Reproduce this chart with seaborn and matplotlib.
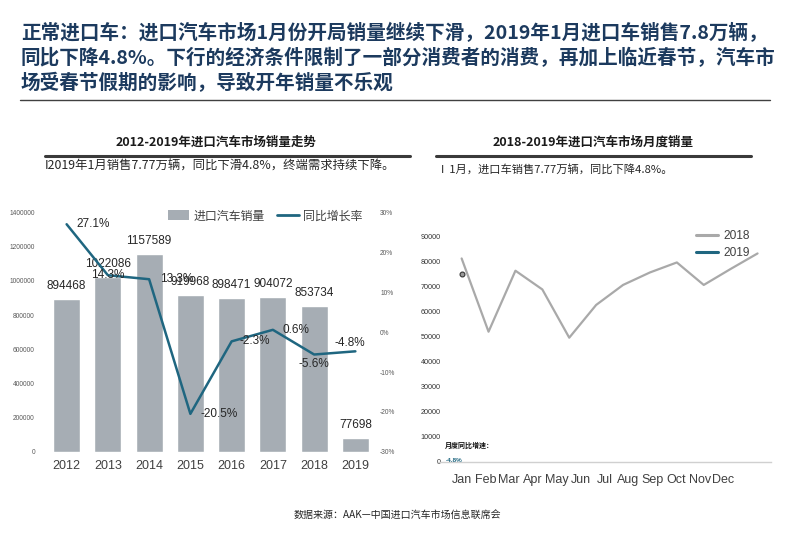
import numpy as np
import pandas as pd
import matplotlib
matplotlib.use("Agg")
import matplotlib.pyplot as plt
import seaborn as sns
from matplotlib.lines import Line2D
from matplotlib.patches import Patch

# 2012-2019 annual import sales and YoY growth
years = ["2012", "2013", "2014", "2015", "2016", "2017", "2018", "2019"]
annual_sales = [894468, 1022086, 1157589, 919968, 898471, 904072, 853734, 77698]
yoy_growth = [27.1, 14.3, 13.3, -20.5, -2.3, 0.6, -5.6, -4.8]

# monthly sales 2018 vs 2019 (only Jan for 2019)
months = ["Jan", "Feb", "Mar", "Apr", "May", "Jun",
          "Jul", "Aug", "Sep", "Oct", "Nov", "Dec"]
sales_2018 = [81300, 52000, 76400, 68900, 49600, 62700,
              70700, 75700, 79700, 70700, 77100, 83300]
sales_2019 = [75000]

BAR_COLOR = "#A6ADB4"
LINE_COLOR = "#1F6680"
GREY_LINE = "#A9A9A9"
NAVY = "#1C3A5E"
TEXT = "#404040"

sns.set_theme(style="white")
plt.rcParams["font.family"] = ["Liberation Sans", "Noto Sans CJK SC", "DejaVu Sans"]
CJK = ["Noto Sans CJK SC", "DejaVu Sans"]

W, H = 800, 553
fig = plt.figure(figsize=(W / 100, H / 100), dpi=100)


def fx(px):
    return px / W


def fy(py):
    return 1 - py / H


# ---- title block ----
title_lines = [
    "正常进口车：进口汽车市场1月份开局销量继续下滑，2019年1月进口车销售7.8万辆，",
    "同比下降4.8%。下行的经济条件限制了一部分消费者的消费，再加上临近春节，汽车市",
    "场受春节假期的影响，导致开年销量不乐观",
]
for i, line in enumerate(title_lines):
    fig.text(fx(21), fy(33 + 25 * i), line, family=CJK, fontsize=14.1,
             fontweight="bold", color=NAVY, va="center", ha="left")
fig.add_artist(Line2D([fx(20), fx(770)], [fy(100), fy(100)], color="#404040", lw=1))

# ---- panel headers ----
fig.text(fx(216), fy(142), "2012-2019年进口汽车市场销量走势", family=CJK,
         fontsize=9.0, fontweight="bold", color="#1a1a1a", ha="center", va="center")
fig.text(fx(593), fy(142), "2018-2019年进口汽车市场月度销量", family=CJK,
         fontsize=9.0, fontweight="bold", color="#1a1a1a", ha="center", va="center")
fig.add_artist(Line2D([fx(45), fx(410)], [fy(156), fy(156)], color="#3a3a3a", lw=2.2))
fig.add_artist(Line2D([fx(436), fx(751)], [fy(156), fy(156)], color="#3a3a3a", lw=2.2))
fig.text(fx(45), fy(166), "I2019年1月销售7.77万辆，同比下滑4.8%，终端需求持续下降。",
         family=CJK, fontsize=8.9, color="#262626", ha="left", va="center")
fig.text(fx(441), fy(169), "I  1月，进口车销售7.77万辆，同比下降4.8%。",
         family=CJK, fontsize=8.1, color="#262626", ha="left", va="center")

# ---- left chart: bars + growth line ----
ax1 = fig.add_axes([fx(46), fy(451.7), fx(376) - fx(46), fy(212.7) - fy(451.7)])
df_annual = pd.DataFrame({"year": years, "sales": annual_sales, "growth": yoy_growth})
sns.barplot(data=df_annual, x="year", y="sales", color=BAR_COLOR, width=0.65,
            saturation=1, ax=ax1)
ax1.set_ylim(0, 1400000)
ax1.set_yticks(np.arange(0, 1400001, 200000))
ax1.set_yticklabels([f"{int(v)}" for v in ax1.get_yticks()])
ax1.tick_params(axis="y", labelsize=4.8, colors="#595959", pad=8, length=0)
ax1.tick_params(axis="x", labelsize=9, colors=TEXT, pad=6, length=0)
ax1.set_xlabel("")
ax1.set_ylabel("")
for s in ax1.spines.values():
    s.set_visible(False)

for i, v in enumerate(annual_sales):
    ax1.annotate(str(v), (i, v), xytext=(0, 5), textcoords="offset points",
                 ha="center", va="bottom", fontsize=8.5, color="#262626")

ax2 = ax1.twinx()
sns.lineplot(x=np.arange(len(years)), y=yoy_growth, color=LINE_COLOR, linewidth=1.8, ax=ax2)
ax2.set_ylim(-30, 30)
ax2.set_yticks(np.arange(-30, 31, 10))
ax2.set_yticklabels([f"{int(v)}%" for v in ax2.get_yticks()])
ax2.tick_params(axis="y", labelsize=4.8, colors="#595959", pad=3, length=0)
for s in ax2.spines.values():
    s.set_visible(False)
ax1.set_xlim(-0.5, len(years) - 0.5)

# label placement per point: (dx, dy, ha) in points
growth_offsets = [(7, 0, "left"), (0, 0, "center"), (8, 0, "left"), (7, 0, "left"),
                  (6, 0, "left"), (7, 0, "left"), (0, -7, "center"), (-4, 6, "center")]
for i, (g, (dx, dy, ha)) in enumerate(zip(yoy_growth, growth_offsets)):
    ax2.annotate(f"{g}%", (i, g), xytext=(dx, dy), textcoords="offset points",
                 ha=ha, va="center", fontsize=8.5, color="#262626")

left_handles = [Patch(facecolor=BAR_COLOR, edgecolor="none"),
                Line2D([], [], color=LINE_COLOR, lw=2)]
fig.legend(left_handles, ["进口汽车销量", "同比增长率"], loc="center left",
           bbox_to_anchor=(fx(157), fy(216)), ncol=2, frameon=False,
           prop={"family": CJK, "size": 8.6}, handlelength=1.8, handleheight=0.9,
           columnspacing=1.0, handletextpad=0.4, labelcolor="#404040")

# ---- right chart: monthly lines ----
ax3 = fig.add_axes([fx(442), fy(461.7), fx(771) - fx(442), fy(236.7) - fy(461.7)])
x_months = np.arange(len(months))
sns.lineplot(x=x_months, y=sales_2018, color=GREY_LINE, linewidth=1.6, ax=ax3, label="2018")
sns.lineplot(x=x_months[:len(sales_2019)], y=sales_2019, color=LINE_COLOR, linewidth=1.6,
             marker="o", markersize=3.5, markerfacecolor="#9a9a9a",
             markeredgecolor="#333333", markeredgewidth=0.8, ax=ax3, label="2019")
ax3.set_xlim(-0.73, 11.5)
ax3.set_ylim(0, 90000)
ax3.set_yticks(np.arange(0, 90001, 10000))
ax3.set_yticklabels([f"{int(v)}" for v in ax3.get_yticks()])
ax3.tick_params(axis="y", labelsize=5.2, colors="#333333", pad=1, length=0)
# month labels sit a bit tighter than the data points in the original
ax3.set_xticks(x_months * 0.885)
ax3.set_xticklabels(months)
ax3.tick_params(axis="x", labelsize=9, colors=TEXT, pad=9, length=0)
for side in ["top", "right", "left"]:
    ax3.spines[side].set_visible(False)
ax3.spines["bottom"].set_color("#D0D0D0")
ax3.spines["bottom"].set_linewidth(1)
ax3.spines["bottom"].set_bounds(-0.88, 11.5)
ax3.spines["bottom"].set_clip_on(False)

right_handles = [Line2D([], [], color=GREY_LINE, lw=2.2), Line2D([], [], color=LINE_COLOR, lw=2.2)]
ax3.legend(right_handles, ["2018", "2019"], loc="center left",
           bbox_to_anchor=(fx(685), fy(244.7)), bbox_transform=fig.transFigure,
           frameon=False, fontsize=8.6,
           handlelength=1.9, handletextpad=0.4, labelspacing=0.45, labelcolor="#404040")

fig.text(fx(445), fy(445), "月度同比增速：", family=CJK, fontsize=5, fontweight="bold",
         color="#111111", ha="left", va="center")
fig.text(fx(446), fy(460), "-4.8%", fontsize=4.6, color=LINE_COLOR, fontweight="bold",
         ha="left", va="center")

# ---- footer ----
fig.text(fx(397), fy(515), "数据来源：AAK—中国进口汽车市场信息联席会", family=CJK,
         fontsize=7.2, color="#262626", ha="center", va="center")

fig.savefig("out.png", dpi=100)
